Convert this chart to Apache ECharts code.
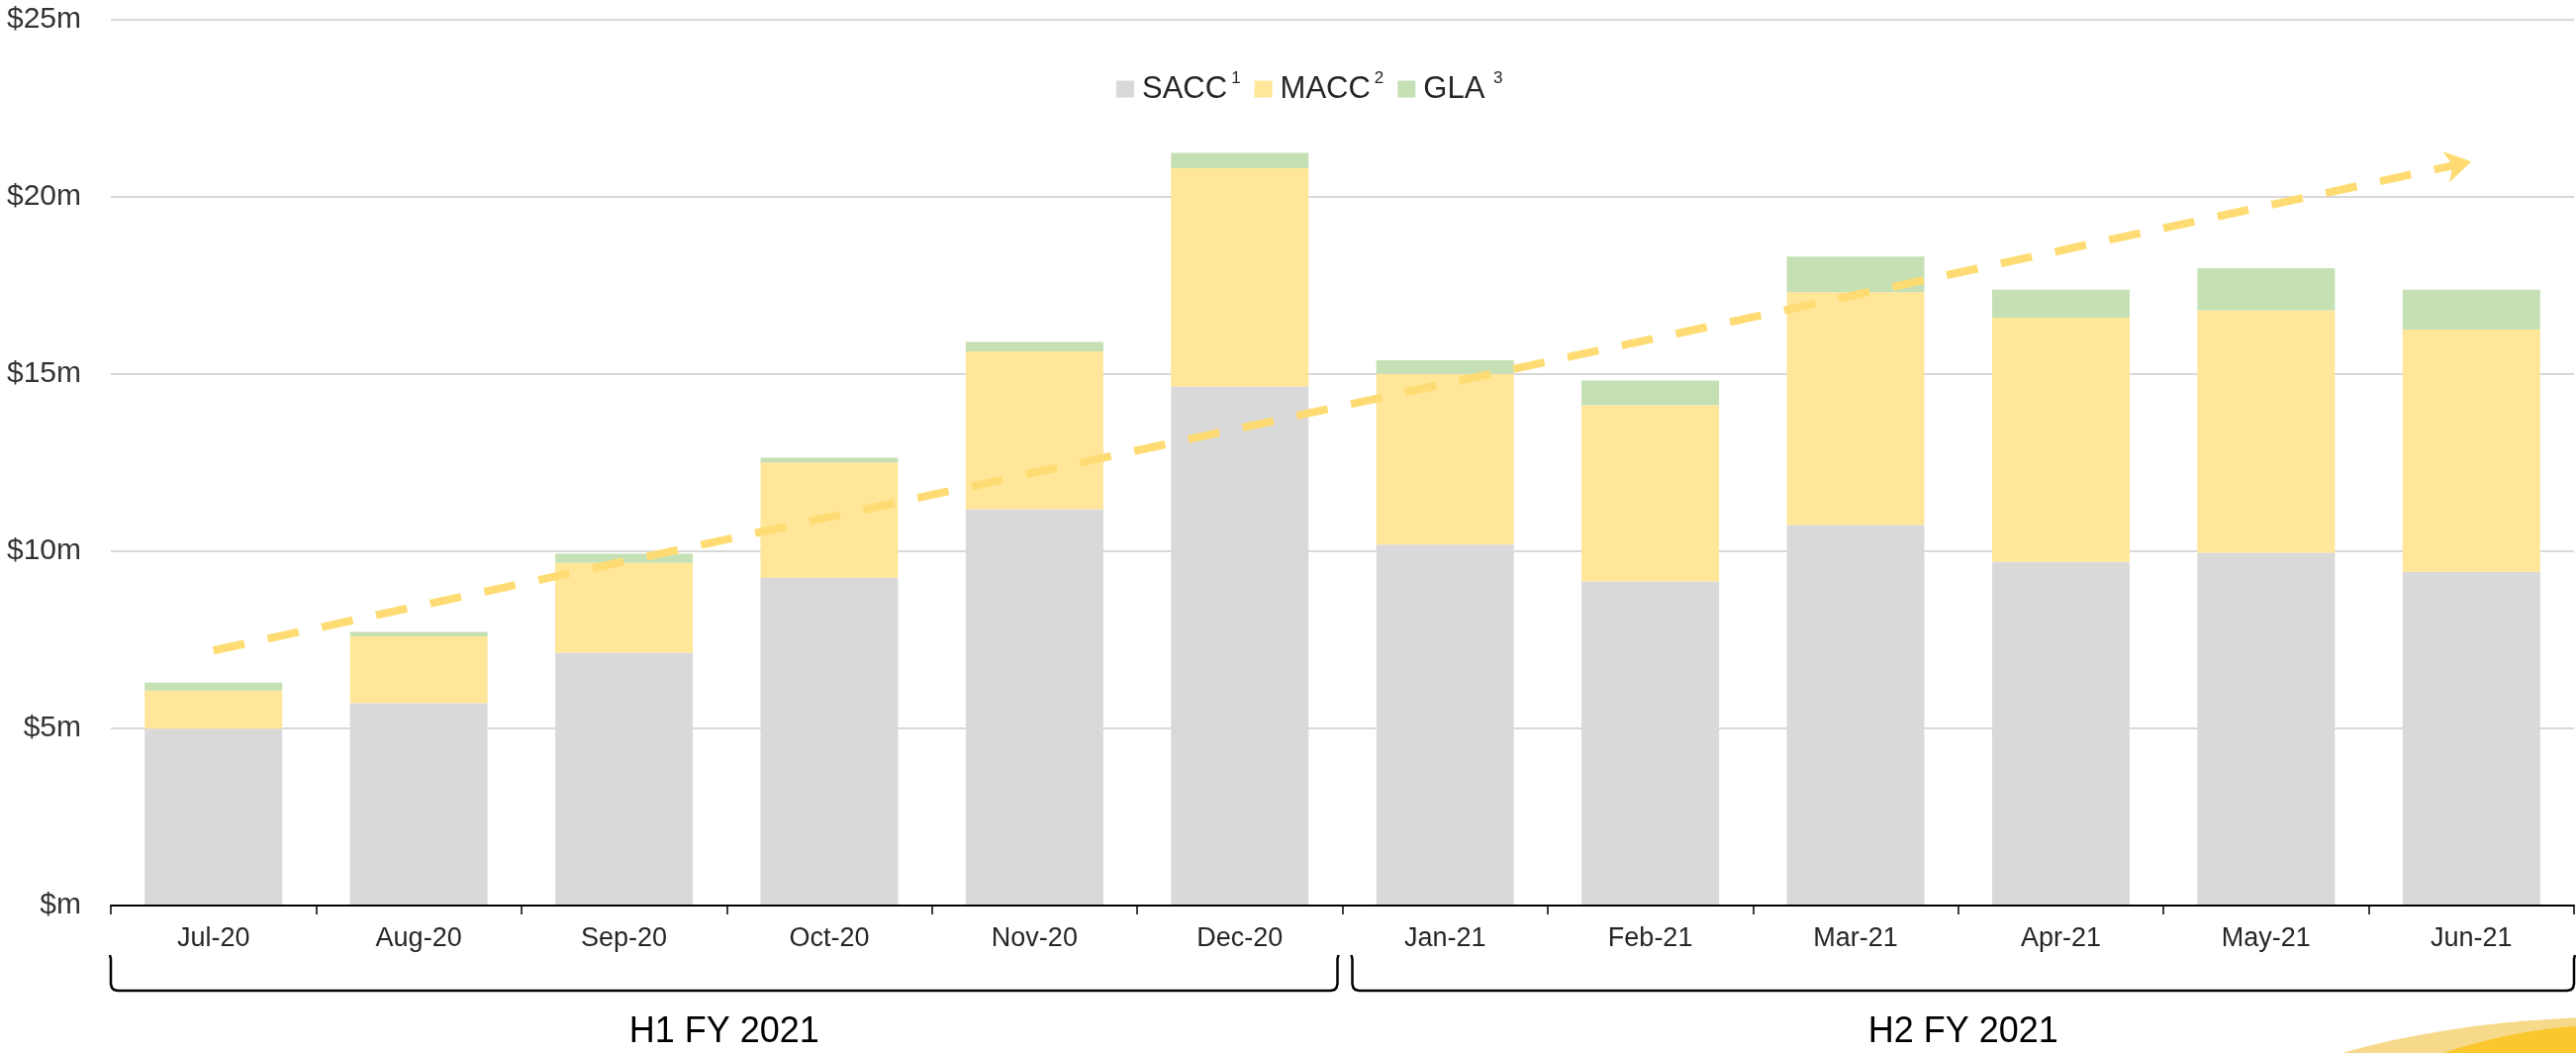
<!DOCTYPE html>
<html>
<head>
<meta charset="utf-8">
<title>Monthly SACC / MACC / GLA FY 2021</title>
<script src="https://cdn.jsdelivr.net/npm/echarts@6/dist/echarts.min.js"></script>
<style>
  html, body { margin: 0; padding: 0; background: #fff; }
  #chart { width: 2603px; height: 1064px; }
</style>
</head>
<body>
<div id="chart"></div>
<script>
// values in $m
const months = ['Jul-20', 'Aug-20', 'Sep-20', 'Oct-20', 'Nov-20', 'Dec-20',
  'Jan-21', 'Feb-21', 'Mar-21', 'Apr-21', 'May-21', 'Jun-21']
const sacc = [4.99, 5.71, 7.14, 9.25, 11.19, 14.65, 10.19, 9.15, 10.74, 9.70, 9.96, 9.42]
const macc = [1.08, 1.89, 2.53, 3.26, 4.45, 6.16, 4.82, 4.97, 6.57, 6.89, 6.84, 6.84]
const gla = [0.22, 0.12, 0.26, 0.13, 0.27, 0.43, 0.38, 0.70, 1.01, 0.79, 1.19, 1.12]

const seriesNames = ['SACC', 'MACC', 'GLA']
const footnotes = ['1', '2', ' 3']

// dashed trend arrow
const trendStart = ['Jul-20', 7.2]
const trendEnd = ['Jun-21', 21.0]

// half-year brackets under the axis
const halfLabels = ['H1 FY 2021', 'H2 FY 2021']
const halfFirst = [0, 6]
const halfLast = [5, 11]

const FONT = "'Liberation Sans', Arial, sans-serif"
const TEXT = '#262626'

const chart = echarts.init(document.getElementById('chart'))

const option = {
  animation: false,
  textStyle: { fontFamily: FONT },
  grid: { left: 112, right: 2, top: 20, bottom: 149 },
  legend: {
    data: seriesNames,
    left: 1123,
    top: 66,
    icon: 'rect',
    itemWidth: 18,
    itemHeight: 17,
    itemGap: 14,
    selectedMode: false,
    formatter: name => `{n|${name}}{s|${footnotes[seriesNames.indexOf(name)]}}`,
    textStyle: {
      rich: {
        n: { fontSize: 31, lineHeight: 38, color: TEXT, fontFamily: FONT, padding: [0, 4, 0, 3] },
        s: { fontSize: 17, lineHeight: 17, color: TEXT, fontFamily: FONT, verticalAlign: 'top' }
      }
    }
  },
  xAxis: {
    type: 'category',
    data: months,
    z: 3,
    axisLine: { lineStyle: { color: '#000', width: 2 } },
    axisTick: { show: true, length: 9, lineStyle: { color: '#000', width: 1.5 } },
    axisLabel: { interval: 0, fontSize: 27, color: TEXT, margin: 20 }
  },
  yAxis: {
    type: 'value',
    min: 0,
    max: 25,
    interval: 5,
    axisLine: { show: false },
    axisTick: { show: false },
    axisLabel: {
      fontSize: 30,
      color: '#333',
      margin: 30,
      formatter: v => (v === 0 ? '$m' : '$' + v + 'm')
    },
    splitLine: { lineStyle: { color: '#D9D9D9', width: 2 } }
  },
  series: [
    { name: 'SACC', type: 'bar', stack: 'total', data: sacc, barCategoryGap: '33%', itemStyle: { color: '#D9D9D9' } },
    { name: 'MACC', type: 'bar', stack: 'total', data: macc, itemStyle: { color: '#FFE699' } },
    { name: 'GLA', type: 'bar', stack: 'total', data: gla, itemStyle: { color: '#C5E0B4' } },
    {
      name: 'Trend',
      type: 'line',
      data: [],
      silent: true,
      markLine: {
        silent: true,
        symbol: ['none', 'arrow'],
        symbolSize: [24, 26],
        label: { show: false },
        emphasis: { disabled: true },
        lineStyle: { color: '#FFDC73', width: 8, type: [32, 24] },
        data: [[{ coord: trendStart }, { coord: trendEnd }]]
      }
    }
  ]
}

chart.setOption(option)

// brackets + half-year labels placed from the category axis
function buildGraphics() {
  const px = m => chart.convertToPixel({ xAxisIndex: 0 }, m)
  const band = px(months[1]) - px(months[0])
  const axisY = chart.convertToPixel({ yAxisIndex: 0 }, 0)
  const top = axisY + 50
  const bottom = axisY + 86
  const els = []

  halfLabels.forEach((label, i) => {
    let x0 = px(months[halfFirst[i]]) - band / 2
    let x1 = px(months[halfLast[i]]) + band / 2
    if (i > 0) x0 += 10
    if (i < halfLabels.length - 1) x1 -= 5
    els.push({
      type: 'polyline',
      silent: true,
      shape: {
        points: [[x0 - 1, top], [x0, top + 4], [x0, bottom - 7], [x0 + 1, bottom - 3], [x0 + 3, bottom - 1], [x0 + 7, bottom],
          [x1 - 7, bottom], [x1 - 3, bottom - 1], [x1 - 1, bottom - 3], [x1, bottom - 7], [x1, top + 4], [x1 + 1, top]]
      },
      style: { stroke: '#000', lineWidth: 2.5, fill: null }
    })
    els.push({
      type: 'text',
      silent: true,
      x: (x0 + x1) / 2,
      y: axisY + 128,
      style: {
        text: label,
        font: `36px ${FONT}`,
        fill: '#000',
        align: 'center',
        verticalAlign: 'middle'
      }
    })
  })

  // corner swoosh decoration
  els.push({
    type: 'circle', silent: true, x: 2640, y: 1328, scaleX: 1.92,
    shape: { cx: 0, cy: 0, r: 300 }, style: { fill: '#F7D98B' }
  })
  els.push({
    type: 'circle', silent: true, x: 2650, y: 1235, scaleX: 1.74,
    shape: { cx: 0, cy: 0, r: 200 }, style: { fill: '#FBC72E' }
  })

  chart.setOption({ graphic: { elements: els } })
}

buildGraphics()
</script>
</body>
</html>
